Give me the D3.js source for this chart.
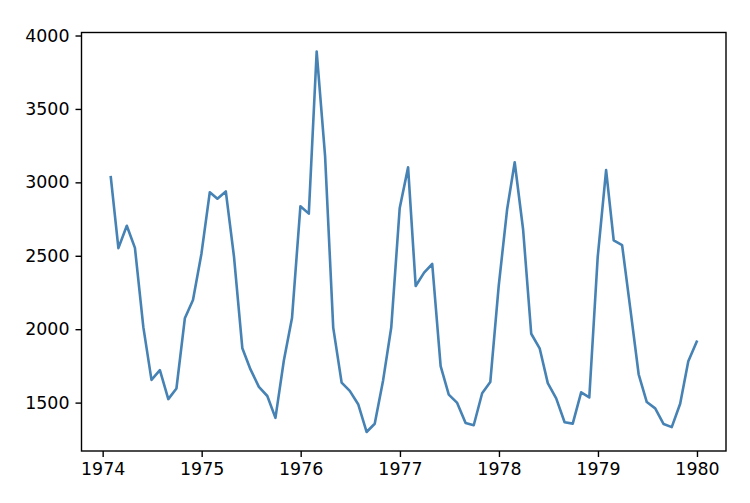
<!DOCTYPE html>
<html>
<head>
<meta charset="utf-8">
<script src="https://cdn.jsdelivr.net/npm/d3@7"></script>
<style>
  html, body { margin: 0; padding: 0; background: #fff; }
  svg { display: block; }
  text { font-family: "DejaVu Sans", sans-serif; }
</style>
</head>
<body>
<svg id="chart" width="750" height="503"></svg>
<script>
// Monthly UK lung-disease deaths, Jan 1974 – Dec 1979 (month-end dates)
const startYear = 1974;
const values1974 = [3035, 2552, 2704, 2554, 2014, 1655, 1721, 1524, 1596, 2074, 2199, 2512];
const values1975 = [2933, 2889, 2938, 2497, 1870, 1726, 1607, 1545, 1396, 1787, 2076, 2837];
const values1976 = [2787, 3891, 3179, 2011, 1636, 1580, 1489, 1300, 1356, 1653, 2013, 2823];
const values1977 = [3102, 2294, 2385, 2444, 1748, 1554, 1498, 1361, 1346, 1564, 1640, 2293];
const values1978 = [2815, 3137, 2679, 1969, 1870, 1633, 1529, 1366, 1357, 1570, 1535, 2491];
const values1979 = [3084, 2605, 2573, 2143, 1693, 1504, 1461, 1354, 1333, 1492, 1781, 1915];
const yTickValues = [1500, 2000, 2500, 3000, 3500, 4000];
const xTickYears = [1974, 1975, 1976, 1977, 1978, 1979, 1980];

const allValues = [values1974, values1975, values1976, values1977, values1978, values1979];
const data = [];
allValues.forEach((yearVals, yi) => {
  yearVals.forEach((v, m) => {
    // month-end date: day 0 of the next month
    data.push({ date: new Date(Date.UTC(startYear + yi, m + 1, 0)), value: v });
  });
});

const svg = d3.select("#chart");
const plot = { left: 81.5, right: 726, top: 32.5, bottom: 451 };

const xExt = d3.extent(data, d => d.date.getTime());
const xPad = (xExt[1] - xExt[0]) * 0.05;
const x = d3.scaleUtc()
  .domain([new Date(xExt[0] - xPad), new Date(xExt[1] + xPad)])
  .range([plot.left, plot.right]);

const yExt = d3.extent(data, d => d.value);
const yPad = (yExt[1] - yExt[0]) * 0.05;
const y = d3.scaleLinear()
  .domain([yExt[0] - yPad, yExt[1] + yPad])
  .range([plot.bottom, plot.top]);

const line = d3.line()
  .x(d => x(d.date))
  .y(d => y(d.value));

svg.append("path")
  .datum(data)
  .attr("fill", "none")
  .attr("stroke", "#4682b4")
  .attr("stroke-width", 2.6)
  .attr("stroke-linejoin", "round")
  .attr("stroke-linecap", "square")
  .attr("d", line);

// frame
svg.append("rect")
  .attr("x", plot.left)
  .attr("y", plot.top)
  .attr("width", plot.right - plot.left)
  .attr("height", plot.bottom - plot.top)
  .attr("fill", "none")
  .attr("stroke", "#000")
  .attr("stroke-width", 1.4);

const xAxis = d3.axisBottom(x)
  .tickValues(xTickYears.map(yr => new Date(Date.UTC(yr, 0, 1))))
  .tickFormat(d3.utcFormat("%Y"))
  .tickSize(6)
  .tickPadding(6);

const gx = svg.append("g")
  .attr("transform", `translate(0,${plot.bottom})`)
  .call(xAxis);
gx.select(".domain").remove();
gx.selectAll(".tick line").attr("stroke", "#000").attr("stroke-width", 1.4);
gx.selectAll(".tick text")
  .attr("fill", "#000")
  .style("font-size", "17.4px")
  .style("font-family", "DejaVu Sans, sans-serif");

const yAxis = d3.axisLeft(y)
  .tickValues(yTickValues)
  .tickFormat(d3.format("d"))
  .tickSize(6)
  .tickPadding(6);

const gy = svg.append("g")
  .attr("transform", `translate(${plot.left},0)`)
  .call(yAxis);
gy.select(".domain").remove();
gy.selectAll(".tick line").attr("stroke", "#000").attr("stroke-width", 1.4);
gy.selectAll(".tick text")
  .attr("fill", "#000")
  .style("font-size", "17.4px")
  .style("font-family", "DejaVu Sans, sans-serif");
</script>
</body>
</html>
